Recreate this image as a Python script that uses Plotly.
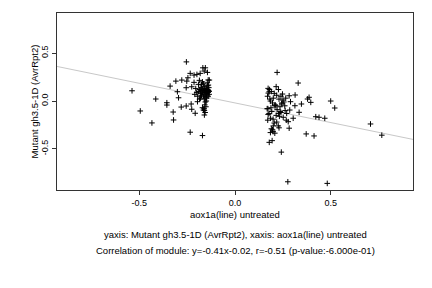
import plotly.graph_objects as go

# left cluster (aox1a untreated, mutant gh3.5-1D)
left_x = [-0.538, -0.495, -0.434, -0.414, -0.356, -0.356, -0.339, -0.323, -0.321, -0.309,
          -0.301, -0.295, -0.281, -0.278, -0.254, -0.252, -0.255, -0.246, -0.255, -0.234,
          -0.234, -0.229, -0.226, -0.226, -0.214, -0.214, -0.208, -0.199, -0.196, -0.191,
          -0.186, -0.182, -0.170, -0.170, -0.168, -0.165, -0.161, -0.160, -0.155, -0.144,
          -0.139, -0.134,
          -0.19, -0.185, -0.18, -0.178, -0.175, -0.172, -0.17, -0.168, -0.165, -0.163,
          -0.16, -0.158, -0.156, -0.155, -0.153, -0.152, -0.15, -0.148, -0.147, -0.145,
          -0.143, -0.142, -0.14, -0.14, -0.138, -0.137, -0.135, -0.135, -0.16, -0.155,
          -0.15, -0.158, -0.152, -0.165, -0.17, -0.145, -0.14, -0.18, -0.195, -0.2,
          -0.205, -0.21, -0.16, -0.156, -0.162, -0.148, -0.175, -0.185]
left_y = [0.107, -0.104, -0.229, 0.021, -0.018, -0.042, 0.156, -0.115, -0.198, 0.208,
          0.097, 0.034, -0.063, 0.219, 0.409, 0.208, 0.139, 0.243, -0.052, 0.289,
          -0.326, -0.031, 0.149, -0.086, 0.271, 0.195, -0.128, 0.278, -0.007, 0.174,
          0.216, 0.289, -0.070, -0.361, 0.347, -0.094, 0.313, -0.146, 0.347, 0.299,
          0.167, 0.219,
          0.10, 0.12, 0.08, 0.14, 0.06, 0.11, 0.09, 0.13, 0.05, 0.10,
          0.15, 0.07, 0.12, 0.09, 0.04, 0.11, 0.13, 0.08, 0.06, 0.10,
          0.16, 0.12, 0.09, 0.05, 0.11, 0.14, 0.07, 0.10, 0.02, -0.01,
          0.00, -0.04, -0.06, 0.18, 0.20, 0.19, 0.22, 0.03, 0.05, 0.09,
          0.13, 0.07, -0.10, -0.12, -0.08, 0.03, 0.17, 0.02]

# right cluster
right_x = [0.220, 0.330, 0.173, 0.179, 0.248, 0.283, 0.314, 0.387, 0.379, 0.500,
           0.521, 0.396, 0.347, 0.290, 0.313, 0.335, 0.422, 0.439, 0.469, 0.286,
           0.278, 0.304, 0.283, 0.372, 0.413, 0.199, 0.708, 0.767, 0.179, 0.194,
           0.208, 0.242, 0.276, 0.482, 0.174,
           0.17, 0.182, 0.196, 0.214, 0.168, 0.236, 0.173, 0.252, 0.171, 0.205,
           0.226, 0.19, 0.185, 0.244, 0.188, 0.262, 0.178, 0.232, 0.199, 0.218,
           0.2, 0.255, 0.208, 0.24, 0.215, 0.186, 0.268, 0.22, 0.21, 0.23,
           0.235, 0.192, 0.228, 0.245, 0.25, 0.172, 0.26, 0.218, 0.205, 0.24,
           0.265, 0.2, 0.23, 0.19, 0.18, 0.227, 0.215, 0.196, 0.185, 0.27]
right_y = [0.299, 0.188, 0.132, 0.097, 0.073, 0.055, 0.063, 0.039, 0.021, 0.000,
           -0.073, -0.014, -0.031, -0.007, -0.049, -0.118, -0.164, -0.170, -0.180, -0.094,
           -0.216, -0.180, -0.284, -0.344, -0.365, -0.320, -0.240, -0.357, -0.432, -0.414,
           -0.336, -0.534, -0.844, -0.861, 0.083,
           0.05, 0.02, -0.02, -0.05, -0.08, -0.11, -0.14, -0.17, -0.20, -0.23,
           -0.26, -0.29, 0.00, -0.03, -0.07, -0.10, -0.13, -0.16, -0.19, -0.22,
           0.03, -0.01, -0.05, -0.12, -0.15, -0.18, -0.20, -0.09, -0.04, 0.02,
           -0.06, -0.11, -0.13, -0.02, 0.01, -0.08, -0.05, 0.06, 0.08, 0.05,
           0.03, -0.26, -0.28, 0.10, 0.12, 0.12, 0.15, -0.30, -0.33, -0.13]

slope = -0.41
intercept = -0.02
x_range = [-0.93, 0.93]
y_range = [-0.93, 0.92]
tick_vals = [-0.5, 0.0, 0.5]
tick_text = ["-0.5", "0.0", "0.5"]

x_title = "aox1a(line) untreated"
y_title = "Mutant gh3.5-1D (AvrRpt2)"
line1 = "yaxis: Mutant gh3.5-1D (AvrRpt2), xaxis: aox1a(line) untreated"
line2 = "Correlation of module: y=-0.41x-0.02, r=-0.51 (p-value:-6.000e-01)"

font = "Liberation Sans, Arial, sans-serif"

fig = go.Figure()
fig.add_trace(go.Scatter(
    x=x_range, y=[slope * v + intercept for v in x_range], mode="lines",
    line=dict(color="#c8c8c8", width=1), hoverinfo="skip", showlegend=False))
fig.add_trace(go.Scatter(
    x=left_x + right_x, y=left_y + right_y, mode="markers",
    marker=dict(symbol="cross-thin-open", size=4, color="black",
                line=dict(color="black", width=1)),
    showlegend=False))

axis_common = dict(showgrid=False, zeroline=False, showline=True, mirror=True,
                   linecolor="#333", linewidth=1, ticks="outside", ticklen=4,
                   tickcolor="#333", tickvals=tick_vals, ticktext=tick_text,
                   tickfont=dict(family=font, size=9, color="black"))
fig.update_layout(
    width=432, height=288, margin=dict(l=57, r=19, t=13, b=98),
    paper_bgcolor="white", plot_bgcolor="white",
    xaxis=dict(range=x_range, **axis_common),
    yaxis=dict(range=y_range, tickangle=-90, **axis_common),
    font=dict(family=font, size=9.5, color="black"),
    annotations=[
        dict(text=x_title, xref="paper", yref="paper", x=0.5, y=-0.141,
             showarrow=False, xanchor="center", yanchor="middle"),
        dict(text=line1, xref="paper", yref="paper", x=0.5, y=-0.249,
             showarrow=False, xanchor="center", yanchor="middle"),
        dict(text=line2, xref="paper", yref="paper", x=0.5, y=-0.339,
             showarrow=False, xanchor="center", yanchor="middle"),
        dict(text=y_title, xref="paper", yref="paper", x=-0.062, y=0.5,
             textangle=-90, showarrow=False, xanchor="center", yanchor="middle"),
    ],
)
fig.write_html("out.html")
